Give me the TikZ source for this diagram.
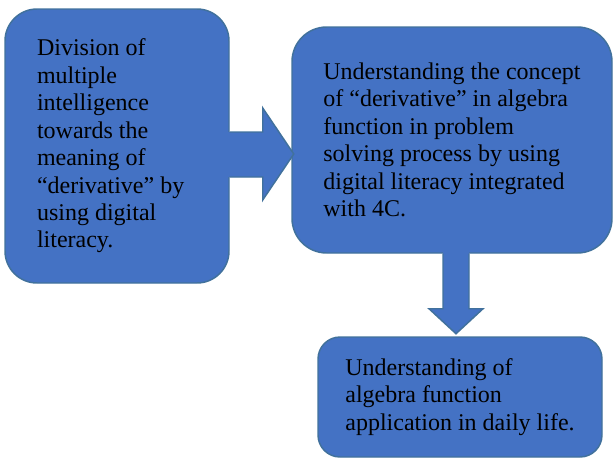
\documentclass[tikz,border=0pt]{standalone}
\usepackage{fontspec}
\setmainfont{Liberation Serif}
\usepackage{tikz}
\usetikzlibrary{calc}
\usepackage{xcolor}
\definecolor{boxblue}{HTML}{4472C4}
\definecolor{boxedge}{HTML}{41719C}
\tikzset{
  block/.style={draw=boxedge, fill=boxblue, line width=1.1pt, align=flush left,
    font=\fontsize{18pt}{20.6pt}\selectfont},
  fatfill/.style={fill=boxblue},
  fatedge/.style={draw=boxedge, line width=1.1pt, line join=miter}
}

\begin{document}
\begin{tikzpicture}[x=0.75pt, y=-0.75pt]
  \useasboundingbox (0,0) rectangle (613,458);

  \node[block, rounded corners=24pt, minimum width=168pt, minimum height=205.5pt,
    text width=120pt] (div) at (117,146)
    {Division of\\ multiple\\ intelligence\\ towards the\\ meaning of\\
     “derivative” by\\ using digital\\ literacy.};
  \node[block, rounded corners=26pt, minimum width=240pt, minimum height=169.5pt]
    (concept) at (452,140)
    {Understanding the concept\\ of “derivative” in algebra\\ function in problem\\
     solving process by using\\ digital literacy integrated\\ with 4C.};
  \node[block, rounded corners=16.5pt, minimum width=213pt, minimum height=90pt]
    (apply) at (460,397)
    {Understanding of\\ algebra function\\ application in daily life.};

  % block arrow div -> concept
  \begin{scope}[shift={(div.east)}]
    \fill[fatfill] (-2,-14) -- (33,-14) -- (33,-38) -- (64,8) -- (33,54) -- (33,31) -- (-2,31) -- cycle;
    \draw[fatedge] (0,-14) -- (33,-14) -- (33,-38) -- (64,8) -- (33,54) -- (33,31) -- (0,31);
  \end{scope}
  % block arrow concept -> apply
  \begin{scope}[shift={(concept.south)}]
    \fill[fatfill] (-9,-2) -- (-9,55) -- (-23,55) -- (4,80) -- (31,55) -- (17,55) -- (17,-2) -- cycle;
    \draw[fatedge] (-9,0) -- (-9,55) -- (-23,55) -- (4,80) -- (31,55) -- (17,55) -- (17,0);
  \end{scope}
\end{tikzpicture}
\end{document}
